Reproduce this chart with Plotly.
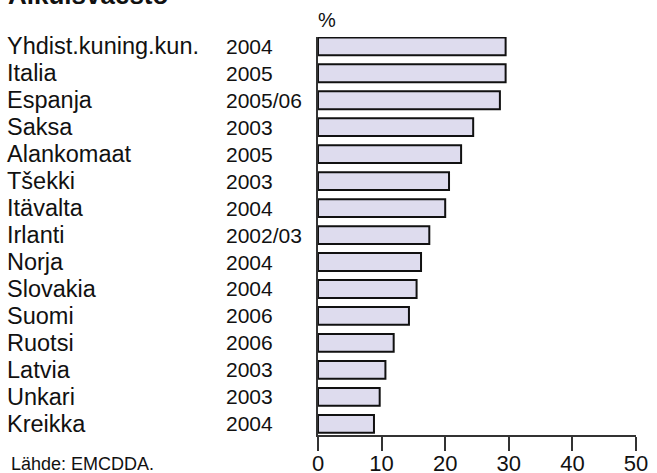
import plotly.graph_objects as go

countries = ["Yhdist.kuning.kun.", "Italia", "Espanja", "Saksa", "Alankomaat",
             "Tšekki", "Itävalta", "Irlanti", "Norja", "Slovakia", "Suomi",
             "Ruotsi", "Latvia", "Unkari", "Kreikka"]
years = ["2004", "2005", "2005/06", "2003", "2005", "2003", "2004", "2002/03",
         "2004", "2004", "2006", "2006", "2003", "2003", "2004"]
values = [29.5, 29.5, 28.6, 24.4, 22.5, 20.6, 20.0, 17.5, 16.2, 15.5, 14.3,
          11.9, 10.6, 9.7, 8.8]
x_ticks = [0, 10, 20, 30, 40, 50]

FONT = "Liberation Sans, Arial, sans-serif"
W, H = 657, 473
L, R, T, B = 318, 636, 37, 435   # piirtoalueen reunat pikseleinä


def px(x):
    """vaakasuora pikselipaikka -> paper-koordinaatti"""
    return (x - L) / (R - L)


def py(y):
    """pystysuora pikselipaikka -> paper-koordinaatti"""
    return (B - y) / (B - T)


fig = go.Figure(
    go.Bar(
        x=values,
        y=countries,
        orientation="h",
        width=0.66,
        marker=dict(color="#dedcee", line=dict(color="#111111", width=2)),
        hoverinfo="x+y",
    )
)

annotations = []
for c, yr in zip(countries, years):
    annotations.append(dict(x=px(5), y=c, xref="paper", yref="y",
                            text=c, showarrow=False, xanchor="left",
                            font=dict(size=23.5, color="#111111", family=FONT)))
    annotations.append(dict(x=px(224), y=c, xref="paper", yref="y",
                            text=yr, showarrow=False, xanchor="left",
                            font=dict(size=21, color="#111111", family=FONT)))

annotations += [
    dict(x=px(6), y=py(-5), xref="paper", yref="paper",
         text="<b>Aikuisväestö</b>", showarrow=False, xanchor="left",
         yanchor="middle", font=dict(size=26, color="#111111", family=FONT)),
    dict(x=px(316), y=py(20), xref="paper", yref="paper",
         text="%", showarrow=False, xanchor="left", yanchor="middle",
         font=dict(size=20, color="#111111", family=FONT)),
    dict(x=px(9), y=py(464), xref="paper", yref="paper",
         text="Lähde: EMCDDA.", showarrow=False, xanchor="left",
         yanchor="middle", font=dict(size=18, color="#111111", family=FONT)),
]

fig.update_layout(
    width=W,
    height=H,
    margin=dict(l=L, r=W - R, t=T, b=H - B, pad=0),
    paper_bgcolor="white",
    plot_bgcolor="white",
    showlegend=False,
    annotations=annotations,
)
fig.update_xaxes(
    range=[0, 50],
    tickvals=x_ticks,
    ticks="outside",
    ticklen=14,
    tickwidth=1.5,
    tickcolor="#333333",
    ticklabelstandoff=-6,
    showline=True,
    linecolor="#333333",
    linewidth=1.5,
    showgrid=False,
    zeroline=False,
    automargin=False,
    tickfont=dict(size=22, color="#111111", family=FONT),
)
fig.update_yaxes(
    range=[14.415, -0.345],
    showticklabels=False,
    ticks="",
    showline=True,
    linecolor="#333333",
    linewidth=1.5,
    showgrid=False,
    zeroline=False,
    automargin=False,
)

# sivun oletusmarginaali pois, jotta kuva alkaa vasemmasta yläkulmasta
fig.write_html(
    "out.html",
    config={"displayModeBar": False},
    post_script="document.body.style.margin='0';",
)
